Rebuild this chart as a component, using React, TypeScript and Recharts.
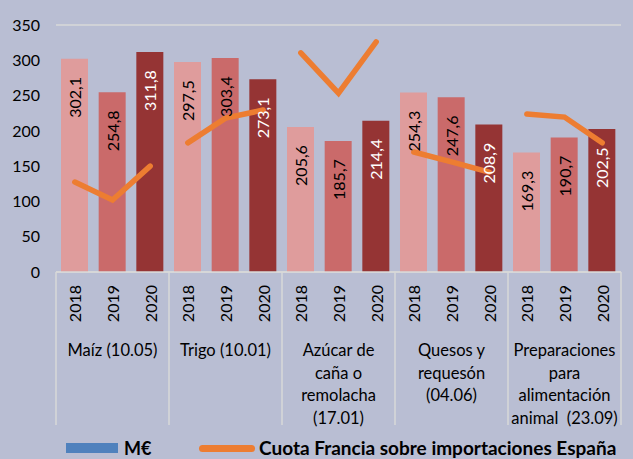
import React from "react";
import {
  ComposedChart,
  Bar,
  Line,
  XAxis,
  YAxis,
  CartesianGrid,
  Legend,
  Cell,
} from "recharts";

const years = ["2018", "2019", "2020"];
const groupLabels: string[][] = [
  ["Maíz (10.05)"],
  ["Trigo (10.01)"],
  ["Azúcar de", "caña o", "remolacha", "(17.01)"],
  ["Quesos y", "requesón", "(04.06)"],
  ["Preparaciones", "para", "alimentación", "animal  (23.09)"],
];
// M€ by group, per year 2018-2020
const maizValues = [302.1, 254.8, 311.8];
const trigoValues = [297.5, 303.4, 273.1];
const azucarValues = [205.6, 185.7, 214.4];
const quesosValues = [254.3, 247.6, 208.9];
const prepValues = [169.3, 190.7, 202.5];
// Cuota Francia sobre importaciones España (%), estimated
const maizShare = [25.5, 20.4, 30.0];
const trigoShare = [36.6, 43.6, 45.9];
const azucarShare = [62.1, 50.7, 65.2];
const quesosShare = [34.0, 31.2, 28.3];
const prepShare = [44.8, 43.9, 36.6];

const yTicks = [0, 50, 100, 150, 200, 250, 300, 350];

const groupValues = [maizValues, trigoValues, azucarValues, quesosValues, prepValues];
const groupShares = [maizShare, trigoShare, azucarShare, quesosShare, prepShare];

const yearColors = ["#DF9C9C", "#CA6A6A", "#953434"];
const labelColors = ["#000000", "#000000", "#FFFFFF"];
const ORANGE = "#ED7D31";
const BG = "#B9BED3";
const GRID = "#D9D9D9";
const FONT = "Lato, 'Open Sans', sans-serif";

type Row = { [k: string]: any };
const data: Row[] = [];
groupValues.forEach((vals, g) => {
  vals.forEach((v, i) => {
    const row: Row = { key: `${g}-${years[i]}`, year: years[i], group: g, yi: i, value: v };
    for (let k = 0; k < groupShares.length; k++) {
      row[`share${k}`] = k === g ? groupShares[g][i] : null;
    }
    data.push(row);
  });
});

const fmt = (v: number) => v.toFixed(1).replace(".", ",");

const renderBarLabel = (props: any) => {
  const { x, y, width, value, index } = props;
  const cx = Number(x) + Number(width) / 2;
  const ty = Number(y) + 59;
  const yi = data[index] ? data[index].yi : 0;
  return (
    <text
      x={cx}
      y={ty}
      transform={`rotate(-90 ${cx} ${ty})`}
      textAnchor="start"
      dominantBaseline="central"
      fontSize={16}
      fontFamily={FONT}
      fill={labelColors[yi]}
    >
      {fmt(Number(value))}
    </text>
  );
};

const XTick = (props: any) => {
  const { x, y, payload, index } = props;
  const row = data[index];
  if (!row) return null;
  const half = payload && payload.offset ? payload.offset : 565 / 30;
  const ty = y + 13;
  const out: any[] = [];
  out.push(
    <text
      key="yr"
      x={x}
      y={ty}
      transform={`rotate(-90 ${x} ${ty})`}
      textAnchor="end"
      dominantBaseline="central"
      fontSize={16}
      fontFamily={FONT}
      fill="#000"
    >
      {row.year}
    </text>
  );
  if (row.yi === 1) {
    groupLabels[row.group].forEach((line, li) => {
      out.push(
        <text
          key={`l${li}`}
          x={x}
          y={y + 78 + li * 22.5}
          textAnchor="middle"
          dominantBaseline="central"
          fontSize={16.5}
          fontFamily={FONT}
          fill="#000"
          style={{ whiteSpace: "pre" }}
        >
          {line}
        </text>
      );
    });
  }
  if (row.yi === 0) {
    out.push(
      <line key="sepL" x1={x - half} x2={x - half} y1={y} y2={y + 153} stroke={GRID} strokeWidth={1.5} />
    );
  }
  if (index === data.length - 1) {
    out.push(
      <line key="sepR" x1={x + half} x2={x + half} y1={y} y2={y + 153} stroke={GRID} strokeWidth={1.5} />
    );
  }
  return <g>{out}</g>;
};

const LegendContent = () => (
  <div style={{ position: "relative", width: 633, height: 27, fontFamily: FONT }}>
    <div style={{ position: "absolute", left: 66, top: 11, width: 52, height: 10, background: "#4F81BD" }} />
    <div
      style={{
        position: "absolute",
        left: 124,
        top: 4,
        lineHeight: "24px",
        fontSize: 18,
        fontWeight: 700,
        color: "#000",
        whiteSpace: "nowrap",
      }}
    >
      M€
    </div>
    <div
      style={{
        position: "absolute",
        left: 199,
        top: 13,
        width: 56,
        height: 7,
        borderRadius: 4,
        background: ORANGE,
      }}
    />
    <div
      style={{
        position: "absolute",
        left: 259,
        top: 3,
        lineHeight: "26px",
        fontSize: 19,
        fontWeight: 700,
        color: "#000",
        whiteSpace: "nowrap",
      }}
    >
      Cuota Francia sobre importaciones España
    </div>
  </div>
);

export default function App() {
  return (
    <div
      style={{
        position: "absolute",
        left: 0,
        top: 0,
        width: 633,
        height: 459,
        background: BG,
        overflow: "hidden",
        fontFamily: FONT,
      }}
    >
      <ComposedChart
        width={633}
        height={459}
        data={data}
        margin={{ top: 25, right: 12, bottom: 0, left: 0 }}
      >
        <CartesianGrid vertical={false} stroke={GRID} strokeWidth={1.5} />
        <XAxis
          dataKey="key"
          interval={0}
          height={160}
          tickLine={false}
          tickSize={0}
          tickMargin={0}
          axisLine={{ stroke: GRID, strokeWidth: 1.5 }}
          tick={<XTick />}
        />
        <YAxis
          yAxisId="left"
          domain={[0, 350]}
          ticks={yTicks}
          width={56}
          tickLine={false}
          axisLine={false}
          tickSize={0}
          tickMargin={16}
          tick={{ fontSize: 16, fill: "#000", fontFamily: FONT }}
          interval={0}
        />
        <YAxis yAxisId="pct" orientation="right" domain={[0, 70]} hide />
        <Legend verticalAlign="bottom" wrapperStyle={{ left: 0, bottom: 0, width: 633, height: 27 }} content={<LegendContent />} />
        <Bar yAxisId="left" dataKey="value" barSize={27} isAnimationActive={false} label={renderBarLabel}>
          {data.map((d) => (
            <Cell key={d.key} fill={yearColors[d.yi]} />
          ))}
        </Bar>
        {groupShares.map((_, k) => (
          <Line
            key={k}
            yAxisId="pct"
            dataKey={`share${k}`}
            stroke={ORANGE}
            strokeWidth={5.5}
            strokeLinecap="round"
            strokeLinejoin="miter"
            dot={false}
            activeDot={false}
            isAnimationActive={false}
            connectNulls={false}
            legendType="none"
          />
        ))}
      </ComposedChart>
    </div>
  );
}
